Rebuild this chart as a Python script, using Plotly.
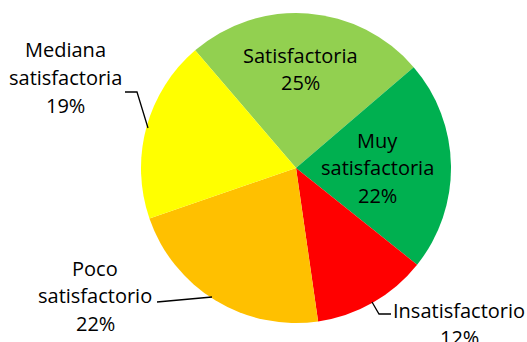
import plotly.graph_objects as go

# Survey rating distribution
categories = ["Satisfactoria", "Muy satisfactoria", "Insatisfactorio",
              "Poco satisfactorio", "Mediana satisfactoria"]
shares = [25, 22, 12, 22, 19]
colors = ["#92D050", "#00B050", "#FF0000", "#FFC000", "#FFFF00"]

# Label text lines per slice (category wrapped, then percentage)
label_lines = [
    ["Satisfactoria"],
    ["Muy", "satisfactoria"],
    ["Insatisfactorio"],
    ["Poco", "satisfactorio"],
    ["Mediana", "satisfactoria"],
]

W, H = 527, 342
cx, cy, r = 296, 168, 155

fig = go.Figure(go.Pie(
    labels=categories,
    values=shares,
    sort=False,
    direction="clockwise",
    rotation=-40.6,
    marker=dict(colors=colors, line=dict(width=0)),
    textinfo="none",
    hoverinfo="label+percent",
    showlegend=False,
    domain=dict(x=[(cx - r) / W, (cx + r) / W],
                y=[1 - (cy + r) / H, 1 - (cy - r) / H]),
))

# Label anchor (center x, first-line y) in pixels, plus line spacing
label_pos = [(300, 55), (377, 140), (459, 310), (95, 268), (65, 50)]
line_gap = 27.5
font = dict(family="'Open Sans', Lato, sans-serif", size=20, color="#000000")

annotations = []
for lines, share, (lx, ly) in zip(label_lines, shares, label_pos):
    full = lines + [f"{share}%"]
    for i, t in enumerate(full):
        annotations.append(dict(
            x=lx / W, y=1 - (ly + i * line_gap) / H, xref="paper", yref="paper",
            text=t, showarrow=False, font=font,
            xanchor="center", yanchor="middle",
        ))

# Leader lines for the outside labels
leaders = [
    [(125, 92), (137, 92), (148, 128)],
    [(157, 302), (212, 297)],
    [(372, 302), (379, 314), (391, 314)],
]
shapes = []
for pts in leaders:
    path = "M " + " L ".join(f"{x / W},{1 - y / H}" for x, y in pts)
    shapes.append(dict(type="path", path=path, xref="paper", yref="paper",
                       line=dict(color="#000000", width=1.3)))

fig.update_layout(
    width=W, height=H,
    margin=dict(l=0, r=0, t=0, b=0),
    paper_bgcolor="white",
    plot_bgcolor="white",
    annotations=annotations,
    shapes=shapes,
)

fig.write_html("out.html")
